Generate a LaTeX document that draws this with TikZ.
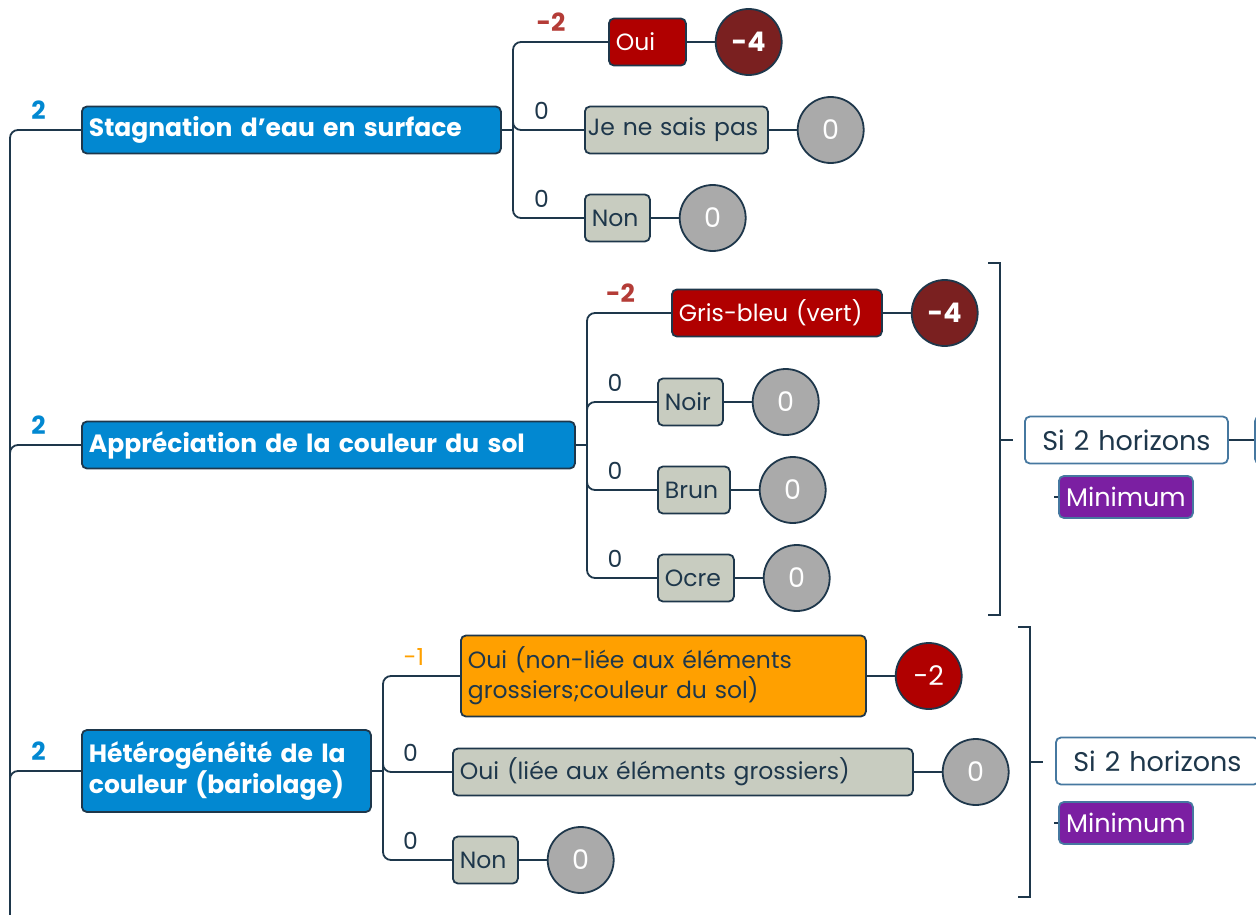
\documentclass[tikz,border=0pt]{standalone}
\usepackage{fontspec}
\setmainfont{Poppins}
\usetikzlibrary{positioning}

\definecolor{navy}{RGB}{30,55,75}
\definecolor{topicblue}{RGB}{2,136,209}
\definecolor{boxred}{RGB}{176,0,0}
\definecolor{darkred}{RGB}{122,32,32}
\definecolor{boxgrey}{RGB}{200,204,192}
\definecolor{dotgrey}{RGB}{170,170,170}
\definecolor{boxorange}{RGB}{255,160,0}
\definecolor{boxpurple}{RGB}{123,31,162}
\definecolor{labelred}{RGB}{180,60,55}
\definecolor{siborder}{RGB}{70,120,160}

\begin{document}
\begin{tikzpicture}[x=1pt,y=-1pt,line width=1.8pt,draw=navy,node distance=28pt,
    txt/.style={font=\fontsize{23.5}{30}\selectfont},
    bold txt/.style={font=\fontsize{25}{31}\selectfont\bfseries},
    box/.style={txt,draw=navy,rounded corners=5pt,minimum height=47pt,inner xsep=7pt,anchor=west,text=navy,align=left},
    topic box/.style={box,fill=topicblue,text=white,bold txt},
    red box/.style={box,fill=boxred,text=white},
    grey box/.style={box,fill=boxgrey},
    orange box/.style={box,fill=boxorange},
    si box/.style={box,draw=siborder,fill=white,align=center,font=\fontsize{27}{32}\selectfont},
    min box/.style={box,draw=siborder,fill=boxpurple,text=white,minimum height=42pt,align=center,text width=124pt,inner xsep=5pt,font=\fontsize{25.5}{30}\selectfont},
    score/.style={circle,draw=navy,minimum size=66pt,inner sep=0pt,text=white,font=\fontsize{27}{32}\selectfont},
    bold score/.style={score,font=\fontsize{27}{32}\selectfont\bfseries},
    branch/.style={rounded corners=8pt,to path={|- (\tikztotarget) \tikztonodes}},
    pts/.style={txt,pos=.7,above=9pt,inner sep=1pt,text=navy}]
\useasboundingbox (0,0) rectangle (1256,915);

% topics
\node[topic box,text width=405pt] (t1) at (81,130) {Stagnation d'eau en surface};
\node[topic box,text width=479pt] (t2) at (81,445) {Appréciation de la couleur du sol};
\node[topic box,text width=275pt,minimum height=82pt] (t3) at (81,771) {Hétérogénéité de la\\couleur (bariolage)};
\coordinate (root) at (10,940);

% stagnation
\coordinate (j1) at (513,130);
\node[red box,text width=63pt] (oui1) at (608,42) {Oui};
\node[grey box,text width=177pt,inner xsep=3pt] (jne1) at (584,130) {Je ne sais pas};
\node[grey box,text width=51pt] (non1) at (584,218) {Non};
\node[bold score,fill=darkred] (s11) [right=of oui1] {-4};
\node[score,fill=dotgrey] (s12) [right=of jne1] {0};
\node[score,fill=dotgrey] (s13) [right=of non1] {0};

% couleur du sol
\coordinate (j2) at (587,445);
\node[red box,text width=196pt] (gris2) at (671,313) {Gris-bleu (vert)};
\node[grey box,text width=51pt] (noir2) at (657,402) {Noir};
\node[grey box,text width=58pt] (brun2) at (657,490) {Brun};
\node[grey box,text width=62pt] (ocre2) at (657,578) {Ocre};
\node[bold score,fill=darkred] (s21) [right=of gris2] {-4};
\node[score,fill=dotgrey] (s22) [right=of noir2] {0};
\node[score,fill=dotgrey] (s23) [right=of brun2] {0};
\node[score,fill=dotgrey] (s24) [right=of ocre2] {0};
\coordinate (br2a) at (988,263);
\coordinate (br2b) at (988,615);
\coordinate (br2m) at (1000,440);
\node[si box,text width=189pt] (si2) at (1024,440) {Si 2 horizons};
\node[min box] (min2) at (1058,497) {Minimum};
\node[si box,text width=40pt] (next2) at (1254,440) {};

% bariolage
\coordinate (j3) at (383,771);
\node[orange box,text width=391pt,minimum height=81pt] (ouinl3) at (460,676) {Oui (non-liée aux éléments\\grossiers;couleur du sol)};
\node[grey box,text width=446pt] (ouil3) at (452,772) {Oui (liée aux éléments grossiers)};
\node[grey box,text width=51pt] (non3) at (452,860) {Non};
\node[score,fill=boxred] (s31) [right=of ouinl3] {-2};
\node[score,fill=dotgrey] (s32) [right=of ouil3] {0};
\node[score,fill=dotgrey] (s33) [right=of non3] {0};
\coordinate (br3a) at (1018,627);
\coordinate (br3b) at (1018,897);
\coordinate (br3m) at (1030,762);
\node[si box,text width=189pt] (si3) at (1055,761) {Si 2 horizons};
\node[min box] (min3) at (1058,823) {Minimum};

\path
    (root) edge[branch] node[pts,text=topicblue,bold txt]{2} (t1)
    (root) edge[branch] node[pts,text=topicblue,bold txt]{2} (t2)
    (root) edge[branch] node[pts,text=topicblue,bold txt]{2} (t3)

    (t1) edge (j1)
    (j1) edge[branch] node[pts,text=labelred,bold txt]{-2} (oui1)
    (j1) edge[branch] node[pts]{0} (jne1)
    (j1) edge[branch] node[pts]{0} (non1)
    (oui1) edge (s11)
    (jne1) edge (s12)
    (non1) edge (s13)

    (t2) edge (j2)
    (j2) edge[branch] node[pts,text=labelred,bold txt]{-2} (gris2)
    (j2) edge[branch] node[pts]{0} (noir2)
    (j2) edge[branch] node[pts]{0} (brun2)
    (j2) edge[branch] node[pts]{0} (ocre2)
    (gris2) edge (s21)
    (noir2) edge (s22)
    (brun2) edge (s23)
    (ocre2) edge (s24)

    (t3) edge (j3)
    (j3) edge[branch] node[pts,text=boxorange]{-1} (ouinl3)
    (j3) edge[branch] node[pts]{0} (ouil3)
    (j3) edge[branch] node[pts]{0} (non3)
    (ouinl3) edge (s31)
    (ouil3) edge (s32)
    (non3) edge (s33);

% summaries
\draw (br2a) -- ++(12,0) |- (br2b);
\draw (br2m) -- ++(13,0);
\draw (si2) -- (next2);
\draw (min2.west) -- ++(-4,0);
\draw (br3a) -- ++(12,0) |- (br3b);
\draw (br3m) -- ++(13,0);
\draw (min3.west) -- ++(-4,0);
\end{tikzpicture}
\end{document}
